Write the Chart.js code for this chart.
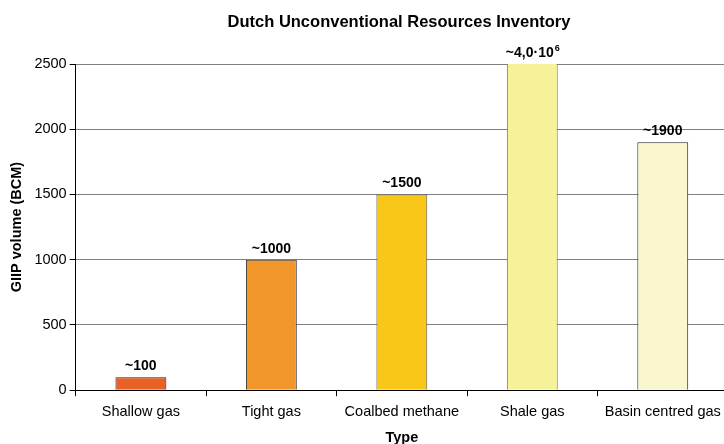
<!DOCTYPE html>
<html>
<head>
<meta charset="utf-8">
<script src="https://cdn.jsdelivr.net/npm/chart.js@4/dist/chart.umd.min.js"></script>
<style>
  html, body { margin: 0; padding: 0; background: #fff; overflow: hidden; }
  #wrap { width: 732px; height: 444px; }
</style>
</head>
<body>
<div id="wrap"><canvas id="barChart" width="732" height="444"></canvas></div>
<script>
// Categories and values
var categories = ['Shallow gas', 'Tight gas', 'Coalbed methane', 'Shale gas', 'Basin centred gas'];
var volumes = [100, 1000, 1500, 4000000, 1900];
var valueLabels = ['~100', '~1000', '~1500', '~4,0\u00b710|6', '~1900'];
var barColours = ['#EA6127', '#F1962A', '#F9C718', '#F6F29A', '#FAF7D0'];
var yTicks = [0, 500, 1000, 1500, 2000, 2500];

var FONT = '"Liberation Sans", Arial, sans-serif';

// Draw title centred over the plot area, and the value above each bar
var labelPlugin = {
    id: 'labels',
    afterDraw: function (chart) {
        var ctx = chart.ctx;
        var area = chart.chartArea;
        ctx.save();
        ctx.fillStyle = '#000';
        ctx.textAlign = 'center';
        ctx.textBaseline = 'alphabetic';
        ctx.font = 'bold 16.5px ' + FONT;
        ctx.fillText('Dutch Unconventional Resources Inventory', 399, 27);

        var meta = chart.getDatasetMeta(0);
        meta.data.forEach(function (bar, i) {
            var y = Math.max(bar.y, area.top) - 7;
            var parts = valueLabels[i].split('|');
            ctx.font = 'bold 14px ' + FONT;
            if (parts.length == 1) {
                ctx.textAlign = 'center';
                ctx.fillText(parts[0], bar.x, y);
            } else {
                // value with a superscript exponent
                var w1 = ctx.measureText(parts[0]).width;
                ctx.font = 'bold 9px ' + FONT;
                var w2 = ctx.measureText(parts[1]).width;
                var x0 = bar.x - (w1 + w2) / 2;
                ctx.textAlign = 'left';
                ctx.font = 'bold 14px ' + FONT;
                ctx.fillText(parts[0], x0, y);
                ctx.font = 'bold 9px ' + FONT;
                ctx.fillText(parts[1], x0 + w1 + 1, y - 6);
            }
        });
        ctx.restore();
    }
};

var ctx = document.getElementById('barChart');
var myBarChart = new Chart(ctx, {
    type: 'bar',
    data: {
        labels: categories,
        datasets: [{
            data: volumes,
            backgroundColor: barColours,
            borderColor: ['#222', '#333', '#555', '#777', '#222'],
            borderWidth: 1,
            barPercentage: 0.39,
            categoryPercentage: 1.0
        }]
    },
    options: {
        responsive: false,
        animation: false,
        layout: { padding: { top: 64, right: 4, left: 8, bottom: -3 } },
        plugins: {
            legend: { display: false },
            tooltip: { enabled: false },
            title: { display: false }
        },
        scales: {
            x: {
                offset: true,
                grid: {
                    offset: true,
                    drawOnChartArea: false,
                    drawTicks: true,
                    tickLength: 6,
                    tickColor: '#000'
                },
                border: { color: '#000', width: 1 },
                ticks: {
                    color: '#000',
                    font: { family: FONT, size: 14.5 },
                    padding: 7,
                    maxRotation: 0
                },
                title: {
                    display: true,
                    text: 'Type',
                    color: '#000',
                    font: { family: FONT, size: 14.5, weight: 'bold' },
                    padding: { top: 2, bottom: 0 }
                }
            },
            y: {
                min: 0,
                max: 2500,
                afterBuildTicks: function (scale) {
                    scale.ticks = yTicks.map(function (v) { return { value: v }; });
                },
                grid: {
                    color: '#808080',
                    lineWidth: 1,
                    drawTicks: true,
                    tickLength: 6,
                    tickColor: '#000'
                },
                border: { color: '#000', width: 1 },
                ticks: {
                    color: '#000',
                    font: { family: FONT, size: 14.5 },
                    padding: 3,
                    callback: function (v) { return String(v); }
                },
                title: {
                    display: true,
                    text: 'GIIP volume (BCM)',
                    color: '#000',
                    font: { family: FONT, size: 14.5, weight: 'bold' },
                    padding: { top: 0, bottom: 6 }
                }
            }
        }
    },
    plugins: [labelPlugin]
});
</script>
</body>
</html>
